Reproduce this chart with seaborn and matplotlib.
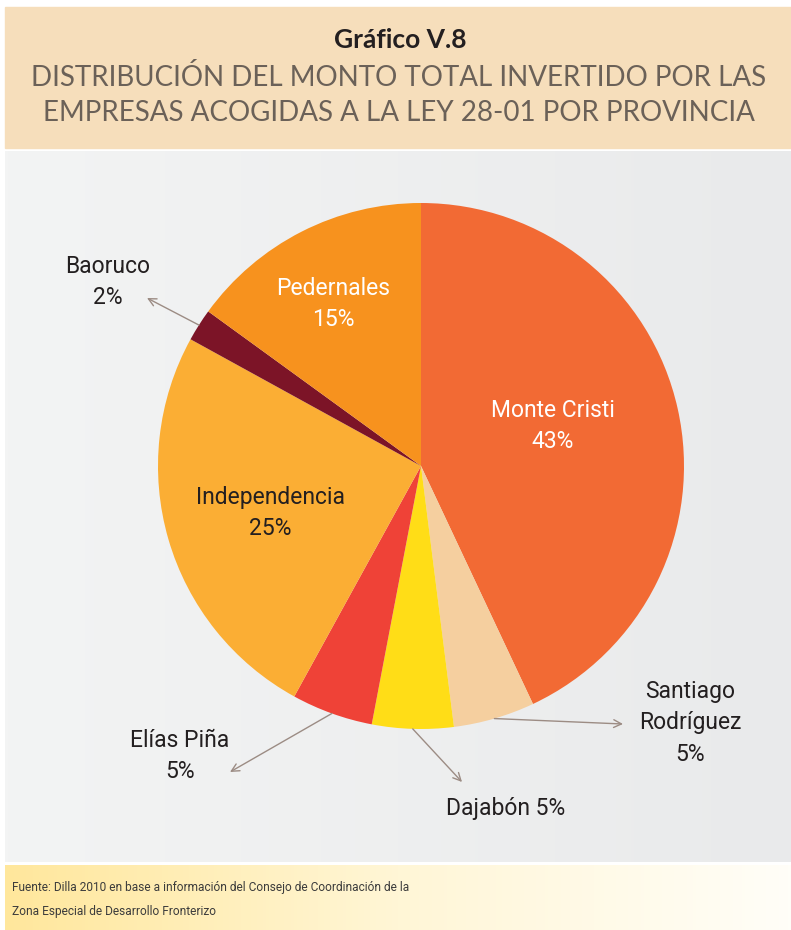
import numpy as np
import matplotlib
matplotlib.use("Agg")
import matplotlib.pyplot as plt
import matplotlib.patches as mpatches
import seaborn as sns

sns.set_theme(style="white")
plt.rcParams['font.family'] = ['Roboto', 'DejaVu Sans']

# datos
provincias = ['Monte Cristi', 'Santiago Rodríguez', 'Dajabón', 'Elías Piña',
              'Independencia', 'Baoruco', 'Pedernales']
porcentajes = [43, 5, 5, 5, 25, 2, 15]
colores = ['#F26A34', '#F5CF9F', '#FFDD17', '#EF4237', '#FBAE34', '#7C1427', '#F7921E']

W, H = 791, 930
fig = plt.figure(figsize=(W / 100, H / 100), dpi=100)
ax = fig.add_axes([0, 0, 1, 1])

def Y(y):
    # convertir coordenada desde arriba
    return H - y

# fondo
ax.add_patch(mpatches.Rectangle((5, Y(148)), W - 5, 141, color='#F6DEBB', zorder=0))
grad = np.linspace(0, 1, 256).reshape(1, -1)
gris = sns.blend_palette(['#F3F4F4', '#E9EAEB'], as_cmap=True)
ax.imshow(grad, extent=[5, W, Y(862), Y(152)], cmap=gris, aspect='auto', zorder=0)
amarillo = sns.blend_palette(['#FFE79C', '#FFF6D6', '#FFFEF8'], as_cmap=True)
ax.imshow(grad, extent=[5, W, Y(930), Y(866)], cmap=amarillo, aspect='auto', zorder=0)

# torta
cx, cy, r = 421, Y(466), 263
wedges, _ = ax.pie(porcentajes, colors=colores, startangle=90, counterclock=False,
                   center=(cx, cy), radius=r, wedgeprops=dict(linewidth=0))

# etiquetas dentro
fs = 16.5
ls = 1.45
ax.text(553, Y(426), 'Monte Cristi\n43%', color='white', fontsize=fs, ha='center', va='center', linespacing=ls)
ax.text(333, Y(304), 'Pedernales\n15%', color='white', fontsize=fs, ha='center', va='center', linespacing=ls)
ax.text(270, Y(513), 'Independencia\n25%', color='#231F20', fontsize=fs, ha='center', va='center', linespacing=ls)

# etiquetas fuera con flechas
fuera = {
    'Baoruco': ((147, 298), (108, 282), 'Baoruco\n2%'),
    'Elías Piña': ((230, 772), (180, 756), 'Elías Piña\n5%'),
    'Dajabón': ((462, 782), (506, 808), 'Dajabón 5%'),
    'Santiago Rodríguez': ((623, 724), (690, 723), 'Santiago\nRodríguez\n5%'),
}
for w, nombre in zip(wedges, provincias):
    if nombre not in fuera:
        continue
    fin, pos, txt = fuera[nombre]
    ang = np.deg2rad((w.theta1 + w.theta2) / 2)
    inicio = (cx + r * np.cos(ang), cy + r * np.sin(ang))
    ax.annotate('', xy=(fin[0], Y(fin[1])), xytext=inicio,
                arrowprops=dict(arrowstyle='->', color='#9C8C84', lw=1.0,
                                shrinkA=0, shrinkB=0, mutation_scale=14), zorder=3)
    ax.text(pos[0], Y(pos[1]), txt, color='#231F20', fontsize=fs, ha='center', va='center', linespacing=ls)

# titulo
ax.text(400, Y(40), 'Gráfico V.8', fontsize=19, fontweight='bold', color='#231F20',
        ha='center', va='center', family=['Lato', 'DejaVu Sans'])
ax.text(399, Y(78), 'DISTRIBUCIÓN DEL MONTO TOTAL INVERTIDO POR LAS', fontsize=20,
        color='#6B6158', ha='center', va='center', family=['Lato', 'DejaVu Sans'])
ax.text(399, Y(113), 'EMPRESAS ACOGIDAS A LA LEY 28-01 POR PROVINCIA', fontsize=20,
        color='#6B6158', ha='center', va='center', family=['Lato', 'DejaVu Sans'])

# fuente
ax.text(12, Y(887), 'Fuente: Dilla 2010 en base a información del Consejo de Coordinación de la',
        fontsize=8.6, color='#3C3C3C', ha='left', va='center')
ax.text(12, Y(911), 'Zona Especial de Desarrollo Fronterizo',
        fontsize=8.6, color='#3C3C3C', ha='left', va='center')

ax.set_xlim(0, W)
ax.set_ylim(0, H)
ax.set_aspect('auto')
ax.axis('off')

fig.savefig('out.png', dpi=100, facecolor='white')
